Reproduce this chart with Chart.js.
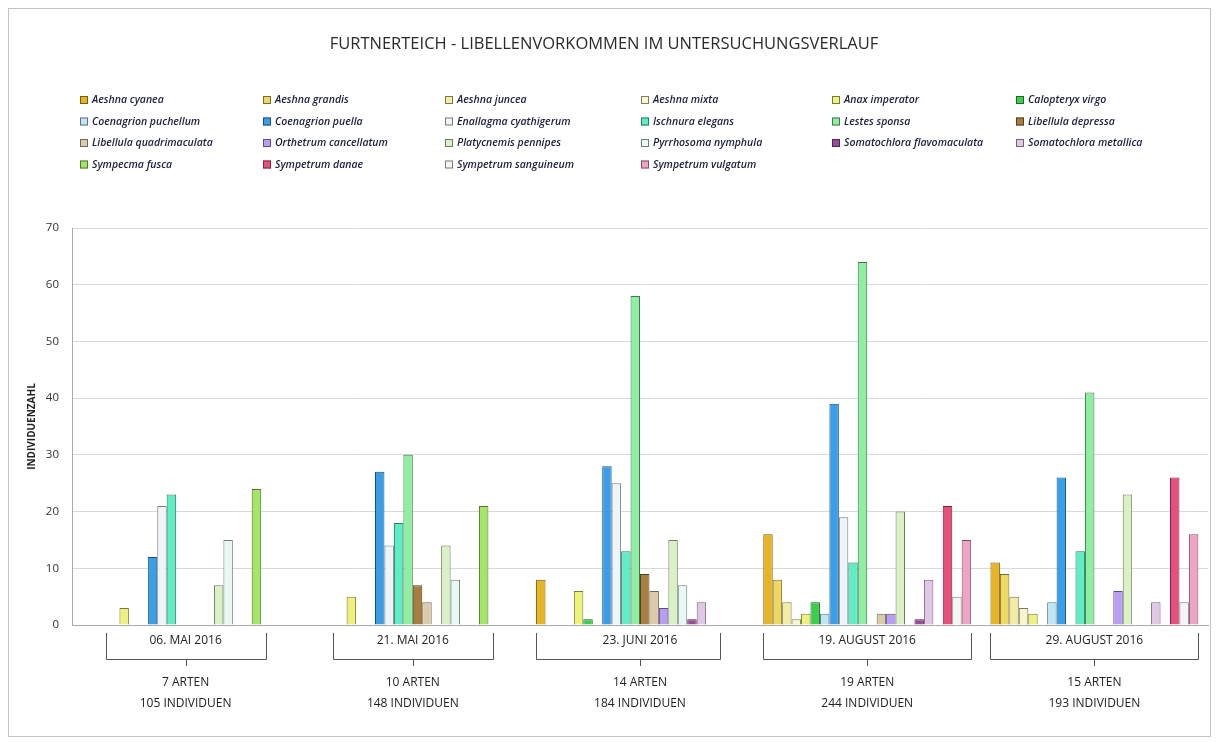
<!DOCTYPE html>
<html lang="de">
<head>
<meta charset="utf-8">
<title>Furtnerteich - Libellenvorkommen</title>
<script src="https://cdn.jsdelivr.net/npm/chart.js@4.4.1/dist/chart.umd.min.js"></script>
<style>
  html, body { margin: 0; padding: 0; background: #fff; }
  #wrap { position: relative; width: 1216px; height: 742px; }
  #frame { position: absolute; left: 8px; top: 8px; width: 1201px; height: 727px; border: 1px solid #c4c4c4; pointer-events: none; }
  canvas { position: absolute; left: 0; top: 0; }
</style>
</head>
<body>
<div id="wrap">
  <canvas id="chart" width="1216" height="742"></canvas>
  <div id="frame"></div>
</div>
<script>
  // Survey dates (categories)
  const dates = ['06. MAI 2016', '21. MAI 2016', '23. JUNI 2016', '19. AUGUST 2016', '29. AUGUST 2016'];

  // Species (one dataset each)
  const species = [
    'Aeshna cyanea', 'Aeshna grandis', 'Aeshna juncea', 'Aeshna mixta', 'Anax imperator', 'Calopteryx virgo',
    'Coenagrion puchellum', 'Coenagrion puella', 'Enallagma cyathigerum', 'Ischnura elegans', 'Lestes sponsa', 'Libellula depressa',
    'Libellula quadrimaculata', 'Orthetrum cancellatum', 'Platycnemis pennipes', 'Pyrrhosoma nymphula', 'Somatochlora flavomaculata', 'Somatochlora metallica',
    'Sympecma fusca', 'Sympetrum danae', 'Sympetrum sanguineum', 'Sympetrum vulgatum'
  ];

  const speciesColors = [
    '#e9b422', '#eed862', '#f4eca0', '#faf5cc', '#eef27a', '#3ccf4e',
    '#bfe5f6', '#3a9fe8', '#eef5f8', '#5eeec6', '#8eeea2', '#a87f3e',
    '#dccbab', '#b89cf6', '#daf1c6', '#e8f8f2', '#9a4c98', '#e2c6e8',
    '#a6e666', '#e84f7c', '#f5f5f5', '#f1a3c3'
  ];

  // Individuals counted per date, in species order
  const countsMai06 = [0, 0, 0, 0, 3, 0, 0, 12, 21, 23, 0, 0, 0, 0, 7, 15, 0, 0, 24, 0, 0, 0];
  const countsMai21 = [0, 0, 0, 0, 5, 0, 0, 27, 14, 18, 30, 7, 4, 0, 14, 8, 0, 0, 21, 0, 0, 0];
  const countsJun23 = [8, 0, 0, 0, 6, 1, 0, 28, 25, 13, 58, 9, 6, 3, 15, 7, 1, 4, 0, 0, 0, 0];
  const countsAug19 = [16, 8, 4, 1, 2, 4, 2, 39, 19, 11, 64, 0, 2, 2, 20, 0, 1, 8, 0, 21, 5, 15];
  const countsAug29 = [11, 9, 5, 3, 2, 0, 4, 26, 0, 13, 41, 0, 0, 6, 23, 0, 0, 4, 0, 26, 4, 16];

  const yTicks = [0, 10, 20, 30, 40, 50, 60, 70];

  const byDate = [countsMai06, countsMai21, countsJun23, countsAug19, countsAug29];
  const nArten = byDate.map(arr => arr.filter(v => v > 0).length);
  const nIndiv = byDate.map(arr => arr.reduce((s, v) => s + v, 0));

  const CAT_PCT = 0.915;
  const FONT = '"Open Sans", "DejaVu Sans", sans-serif';

  function darken(hex, f) {
    const n = parseInt(hex.slice(1), 16);
    const r = Math.round(((n >> 16) & 255) * f);
    const g = Math.round(((n >> 8) & 255) * f);
    const b = Math.round((n & 255) * f);
    return 'rgb(' + r + ',' + g + ',' + b + ')';
  }

  const datasets = species.map((name, s) => ({
    label: name,
    data: byDate.map(arr => arr[s] || null),
    backgroundColor: speciesColors[s],
    borderColor: darken(speciesColors[s], 0.5),
    borderWidth: 1,
    borderSkipped: 'bottom',
    categoryPercentage: CAT_PCT,
    barPercentage: 1.0
  }));

  // legend drawn as a fixed 6-column grid like the original
  const legendGrid = {
    id: 'legendGrid',
    afterDraw(chart) {
      const ctx = chart.ctx;
      const colX = [80, 263, 445, 641, 832, 1016];
      const rowY = [100, 121.5, 143, 164.5];
      ctx.save();
      ctx.font = 'italic 600 10.5px ' + FONT;
      ctx.textBaseline = 'middle';
      ctx.textAlign = 'left';
      chart.data.datasets.forEach((ds, i) => {
        const x = colX[i % 6];
        const y = rowY[Math.floor(i / 6)];
        ctx.fillStyle = ds.backgroundColor;
        ctx.fillRect(x, y - 4, 8, 8);
        ctx.strokeStyle = ds.borderColor;
        ctx.lineWidth = 1;
        ctx.strokeRect(x + 0.5, y - 3.5, 7, 7);
        ctx.fillStyle = '#1a1d3c';
        ctx.fillText(ds.label, x + 12, y + 0.5);
      });
      ctx.restore();
    }
  };

  // brackets under each survey date
  const dateBrackets = {
    id: 'dateBrackets',
    afterDraw(chart) {
      const ctx = chart.ctx;
      const xs = chart.scales.x;
      const base = chart.chartArea.bottom;
      const slot = xs.width / dates.length * CAT_PCT / species.length;
      ctx.save();
      ctx.strokeStyle = '#555';
      ctx.lineWidth = 1;
      byDate.forEach((arr, i) => {
        const c = xs.getPixelForValue(i);
        const start = c - slot * species.length / 2;
        const first = arr.findIndex(v => v > 0);
        let last = arr.length - 1;
        while (last > 0 && !arr[last]) last--;
        let left = Math.min(start + first * slot, c - 80);
        let right = Math.max(start + (last + 1) * slot, c + 80);
        left = Math.round(left) + 0.5;
        right = Math.round(right) + 0.5;
        const cx = Math.round(c) + 0.5;
        ctx.beginPath();
        ctx.moveTo(left, base + 8);
        ctx.lineTo(left, base + 34.5);
        ctx.lineTo(right, base + 34.5);
        ctx.lineTo(right, base + 8);
        ctx.moveTo(cx, base + 34.5);
        ctx.lineTo(cx, base + 41);
        ctx.stroke();
      });
      ctx.restore();
    }
  };

  new Chart(document.getElementById('chart'), {
    type: 'bar',
    data: { labels: dates, datasets },
    options: {
      responsive: false,
      animation: false,
      layout: { padding: { left: 0, right: 8, top: 0, bottom: 0 } },
      plugins: {
        legend: { display: false },
        tooltip: { enabled: false },
        title: {
          display: true,
          text: 'FURTNERTEICH - LIBELLENVORKOMMEN IM UNTERSUCHUNGSVERLAUF',
          color: '#2a2a2a',
          font: { family: FONT, size: 16.5, weight: 'normal', lineHeight: 1.2 },
          padding: { top: 34, bottom: 174.2 }
        }
      },
      scales: {
        x: {
          grid: { display: false, drawTicks: false },
          border: { display: true, color: '#a8a8a8' },
          ticks: {
            autoSkip: false,
            maxRotation: 0,
            padding: 5,
            color: '#222',
            font: { family: FONT, size: 12, lineHeight: '21px' },
            callback: (v, i) => [dates[i], '', nArten[i] + ' ARTEN', nIndiv[i] + ' INDIVIDUEN']
          },
          afterFit: scale => { scale.height = 117; }
        },
        y: {
          min: 0,
          max: 70,
          afterBuildTicks: scale => { scale.ticks = yTicks.map(v => ({ value: v })); },
          grid: { color: '#d9d9d9', drawTicks: false },
          border: { display: true, color: '#a8a8a8' },
          ticks: {
            padding: 13,
            color: '#333',
            font: { family: FONT, size: 11.5 }
          },
          title: {
            display: true,
            text: 'INDIVIDUENZAHL',
            color: '#222',
            font: { family: FONT, size: 10, weight: 'bold', lineHeight: 1.2 },
            padding: { top: 26, bottom: 0 }
          },
          afterFit: scale => { scale.width = 72; }
        }
      }
    },
    plugins: [legendGrid, dateBrackets]
  });
</script>
</body>
</html>
